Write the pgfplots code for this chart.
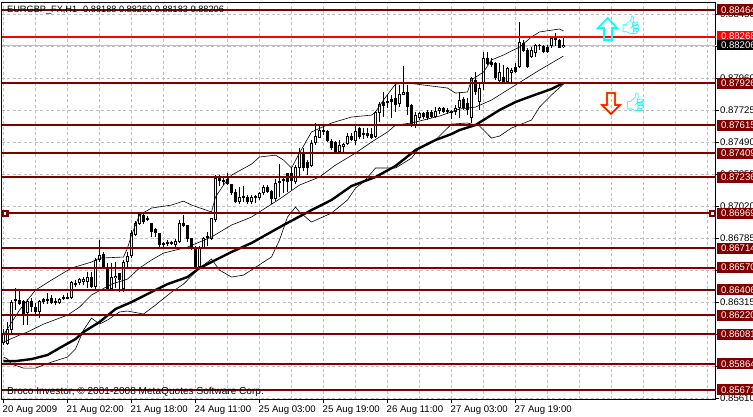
\documentclass[border=0pt]{standalone}
\usepackage{fontspec}
\setmainfont{Liberation Sans}
\newfontfamily\emojifont{Noto Emoji}
\usepackage{pgfplots}
\usepackage{pgfplotstable}
\pgfplotsset{compat=1.18}
\definecolor{lvl}{HTML}{800000}
\definecolor{gridc}{HTML}{C0C0C0}
\definecolor{aqua}{RGB}{0,255,255}
\definecolor{amber}{RGB}{255,160,0}
\newcommand{\chartfont}{\fontsize{9.6}{11}\selectfont}

\pgfplotstableread{
k o h l c
0 0.86016 0.86119 0.86001 0.86089
1 0.86008 0.86170 0.86001 0.86119
2 0.86111 0.86332 0.86074 0.86317
3 0.86339 0.86420 0.86258 0.86324
4 0.86332 0.86412 0.86295 0.86302
5 0.86324 0.86332 0.86148 0.86229
6 0.86236 0.86339 0.86148 0.86324
7 0.86324 0.86346 0.86244 0.86280
8 0.86280 0.86310 0.86229 0.86244
9 0.86244 0.86332 0.86199 0.86324
10 0.86339 0.86346 0.86302 0.86317
11 0.86339 0.86383 0.86302 0.86324
12 0.86346 0.86369 0.86302 0.86310
13 0.86324 0.86346 0.86295 0.86310
14 0.86310 0.86346 0.86302 0.86339
15 0.86354 0.86369 0.86332 0.86339
16 0.86354 0.86383 0.86339 0.86339
17 0.86346 0.86471 0.86339 0.86464
18 0.86457 0.86479 0.86427 0.86442
19 0.86457 0.86493 0.86442 0.86486
20 0.86464 0.86501 0.86442 0.86486
21 0.86464 0.86538 0.86420 0.86501
22 0.86501 0.86538 0.86420 0.86427
23 0.86427 0.86640 0.86412 0.86626
24 0.86626 0.86773 0.86611 0.86662
25 0.86670 0.86685 0.86567 0.86574
26 0.86567 0.86604 0.86405 0.86412
27 0.86412 0.86604 0.86405 0.86501
28 0.86493 0.86611 0.86420 0.86508
29 0.86530 0.86530 0.86390 0.86479
30 0.86412 0.86626 0.86390 0.86611
31 0.86611 0.86685 0.86567 0.86655
32 0.86655 0.86846 0.86640 0.86824
33 0.86809 0.86912 0.86802 0.86898
34 0.86890 0.86971 0.86883 0.86964
35 0.86956 0.86971 0.86890 0.86905
36 0.86934 0.86949 0.86912 0.86920
37 0.86898 0.86898 0.86795 0.86831
38 0.86853 0.86861 0.86795 0.86824
39 0.86824 0.86824 0.86721 0.86736
40 0.86751 0.86758 0.86721 0.86736
41 0.86758 0.86773 0.86729 0.86743
42 0.86758 0.86765 0.86736 0.86743
43 0.86736 0.86780 0.86721 0.86765
44 0.86758 0.86920 0.86751 0.86898
45 0.86898 0.86956 0.86868 0.86875
46 0.86883 0.86883 0.86758 0.86780
47 0.86787 0.86787 0.86699 0.86721
48 0.86721 0.86729 0.86567 0.86574
49 0.86574 0.86729 0.86567 0.86714
50 0.86714 0.86795 0.86707 0.86787
51 0.86802 0.86831 0.86729 0.86787
52 0.86780 0.86934 0.86773 0.86934
53 0.86920 0.87250 0.86905 0.87228
54 0.87228 0.87250 0.87170 0.87206
55 0.87214 0.87228 0.87177 0.87199
56 0.87221 0.87265 0.87177 0.87184
57 0.87184 0.87184 0.87103 0.87118
58 0.87125 0.87148 0.87044 0.87052
59 0.87052 0.87162 0.87037 0.87089
60 0.87096 0.87170 0.87052 0.87081
61 0.87089 0.87103 0.87037 0.87052
62 0.87052 0.87103 0.87037 0.87089
63 0.87096 0.87103 0.87044 0.87081
64 0.87081 0.87125 0.87067 0.87118
65 0.87118 0.87177 0.87103 0.87162
66 0.87162 0.87177 0.87118 0.87125
67 0.87133 0.87140 0.87037 0.87074
68 0.87074 0.87221 0.87059 0.87192
69 0.87192 0.87331 0.87089 0.87206
70 0.87221 0.87236 0.87118 0.87206
71 0.87265 0.87265 0.87125 0.87199
72 0.87265 0.87309 0.87140 0.87206
73 0.87199 0.87324 0.87184 0.87309
74 0.87302 0.87449 0.87228 0.87420
75 0.87420 0.87449 0.87280 0.87302
76 0.87346 0.87360 0.87250 0.87302
77 0.87317 0.87508 0.87309 0.87486
78 0.87486 0.87633 0.87471 0.87537
79 0.87522 0.87625 0.87522 0.87581
80 0.87567 0.87618 0.87544 0.87581
81 0.87574 0.87581 0.87493 0.87500
82 0.87500 0.87515 0.87434 0.87449
83 0.87493 0.87500 0.87412 0.87420
84 0.87420 0.87508 0.87405 0.87471
85 0.87456 0.87486 0.87420 0.87478
86 0.87478 0.87559 0.87471 0.87537
87 0.87537 0.87559 0.87500 0.87508
88 0.87500 0.87610 0.87471 0.87574
89 0.87596 0.87603 0.87515 0.87530
90 0.87559 0.87596 0.87515 0.87544
91 0.87559 0.87596 0.87522 0.87537
92 0.87552 0.87596 0.87515 0.87522
93 0.87530 0.87721 0.87522 0.87714
94 0.87706 0.87787 0.87640 0.87772
95 0.87787 0.87861 0.87677 0.87758
96 0.87794 0.87839 0.87743 0.87780
97 0.87809 0.87839 0.87669 0.87787
98 0.87816 0.87927 0.87714 0.87765
99 0.87772 0.87912 0.87750 0.87846
100 0.87839 0.88052 0.87839 0.87861
101 0.87861 0.87912 0.87691 0.87750
102 0.87765 0.87772 0.87603 0.87625
103 0.87618 0.87714 0.87596 0.87691
104 0.87669 0.87714 0.87655 0.87706
105 0.87706 0.87714 0.87662 0.87677
106 0.87714 0.87728 0.87655 0.87669
107 0.87714 0.87728 0.87669 0.87677
108 0.87677 0.87750 0.87669 0.87721
109 0.87721 0.87750 0.87699 0.87743
110 0.87743 0.87750 0.87706 0.87714
111 0.87728 0.87743 0.87699 0.87714
112 0.87721 0.87728 0.87662 0.87706
113 0.87714 0.87765 0.87691 0.87743
114 0.87743 0.87861 0.87669 0.87802
115 0.87809 0.87824 0.87728 0.87743
116 0.87780 0.87816 0.87691 0.87728
117 0.87669 0.87971 0.87633 0.87963
118 0.87949 0.88008 0.87839 0.87861
119 0.87787 0.87934 0.87728 0.87890
120 0.87927 0.88155 0.87875 0.88110
121 0.88110 0.88155 0.88059 0.88066
122 0.88081 0.88110 0.88044 0.88059
123 0.88074 0.88081 0.87949 0.87963
124 0.87941 0.88074 0.87927 0.88008
125 0.87971 0.88059 0.87927 0.87934
126 0.87934 0.88044 0.87927 0.88037
127 0.88000 0.88037 0.87934 0.88022
128 0.88044 0.88074 0.88000 0.88008
129 0.88044 0.88375 0.88037 0.88228
130 0.88221 0.88243 0.88155 0.88162
131 0.88169 0.88184 0.88037 0.88044
132 0.88118 0.88191 0.88110 0.88169
133 0.88147 0.88213 0.88118 0.88206
134 0.88199 0.88213 0.88169 0.88206
135 0.88199 0.88206 0.88147 0.88155
136 0.88191 0.88206 0.88147 0.88155
137 0.88199 0.88265 0.88184 0.88257
138 0.88257 0.88294 0.88199 0.88243
139 0.88243 0.88250 0.88184 0.88184
140 0.88188 0.88259 0.88183 0.88206
}\candles

\pgfplotstableread{
k p
0 0.85883
3 0.85883
7 0.85898
11 0.85928
14 0.85979
18 0.86045
20 0.86097
24 0.86170
28 0.86266
32 0.86317
37 0.86391
41 0.86449
46 0.86501
49 0.86567
53 0.86626
57 0.86685
62 0.86751
70 0.86883
77 0.86993
82 0.87067
87 0.87170
93 0.87236
98 0.87317
103 0.87434
108 0.87508
112 0.87552
114 0.87581
118 0.87618
120 0.87655
124 0.87728
128 0.87787
132 0.87831
137 0.87883
140 0.87927
}\mavg

\pgfplotstableread{
k p
0 0.86075
4 0.86258
8 0.86405
12 0.86479
17 0.86567
22 0.86611
24 0.86640
30 0.86648
31 0.86714
32 0.86809
34 0.86956
37 0.87008
42 0.87030
45 0.87059
47 0.87030
52 0.86979
53 0.87089
55 0.87177
57 0.87250
62 0.87331
64 0.87383
68 0.87397
70 0.87361
72 0.87302
74 0.87412
77 0.87567
82 0.87633
87 0.87677
92 0.87691
93 0.87714
95 0.87802
98 0.87919
101 0.87927
107 0.87905
111 0.87890
113 0.87853
116 0.87861
117 0.87949
120 0.88008
122 0.88096
125 0.88133
129 0.88191
132 0.88265
134 0.88302
139 0.88324
140 0.88309
}\bandup

\pgfplotstableread{
k p
0 0.86023
4 0.86074
6 0.86097
10 0.86155
16 0.86221
19 0.86280
22 0.86369
27 0.86449
31 0.86486
34 0.86567
37 0.86626
40 0.86677
46 0.86721
52 0.86795
57 0.86883
62 0.86942
69 0.87074
74 0.87177
79 0.87236
83 0.87324
88 0.87412
92 0.87493
96 0.87567
98 0.87618
102 0.87633
109 0.87684
114 0.87736
116 0.87743
118 0.87750
122 0.87802
130 0.87949
134 0.88022
140 0.88125
}\bandmid

\pgfplotstableread{
k p
0 0.85913
1 0.85898
2 0.85861
5 0.85832
8 0.85832
12 0.85876
16 0.85913
18 0.85972
20 0.86111
22 0.86199
24 0.86155
26 0.86185
29 0.86244
31 0.86251
35 0.86229
38 0.86295
42 0.86390
45 0.86449
48 0.86538
50 0.86589
52 0.86633
54 0.86552
57 0.86501
60 0.86515
65 0.86611
67 0.86648
69 0.86773
71 0.86942
73 0.87015
74 0.86979
77 0.86905
82 0.86971
86 0.87067
88 0.87155
90 0.87199
93 0.87302
98 0.87302
102 0.87375
104 0.87449
108 0.87508
112 0.87625
116 0.87633
119 0.87611
122 0.87522
124 0.87537
127 0.87596
132 0.87655
134 0.87750
137 0.87839
140 0.87919
}\bandlow

\begin{document}
\begin{tikzpicture}[x=1pt,y=1pt]
\path[use as bounding box] (0,0) rectangle (753,417);
\begin{axis}[
  at={(2pt,17.5pt)},anchor=south west,scale only axis,
  width=713.5pt,height=396.5pt,
  xmin=-0.375,xmax=178,ymin=0.85601,ymax=0.88515,
  clip=false,axis line style={line width=1pt,black},
  font=\chartfont,
  xtick={0,16,32,48,64,80,96,112,128},
  xticklabels={20 Aug 2009,21 Aug 02:00,21 Aug 18:00,24 Aug 11:00,25 Aug 03:00,25 Aug 19:00,26 Aug 11:00,27 Aug 03:00,27 Aug 19:00},
  minor xtick={8,24,40,56,72,88,104,120,136,144,152,160,168,176},
  ytick={0.85610,0.85845,0.86080,0.86315,0.86550,0.86785,0.87020,0.87255,0.87490,0.87725,0.87960,0.88195,0.88430},
  scaled y ticks=false,
  yticklabel style={/pgf/number format/fixed,/pgf/number format/fixed zerofill,/pgf/number format/precision=5,/pgf/number format/assume math mode=true,anchor=west,inner sep=0pt,xshift=1pt},
  ytick pos=right,xtick pos=bottom,tick align=outside,
  major tick length=3.5pt,minor tick length=0pt,
  tick style={black,line width=1pt},
  xticklabel style={anchor=north west,inner sep=0pt,xshift=-1pt,yshift=-3pt},
  xmajorgrids,xminorgrids,ymajorgrids,
  major grid style={gridc,dash pattern=on 3pt off 2.5pt,line width=0.8pt},
  minor grid style={gridc,dash pattern=on 3pt off 2.5pt,line width=0.8pt},
]
% current price line
\addplot[gridc,line width=1pt,forget plot] coordinates {(-0.375,0.88206) (178,0.88206)};

% wicks
\addplot[draw=none,mark=none,forget plot,
  error bars/.cd,y dir=plus,y explicit,error mark=none,
  error bar style={black,line width=1pt}]
  table[x=k,y=l,y error plus expr=\thisrow{h}-\thisrow{l}] {\candles};
% bodies, black first and a white core for the rising bars
\addplot[draw=none,mark=none,forget plot,
  error bars/.cd,y dir=plus,y explicit,error mark=none,
  error bar style={black,line width=3.2pt}]
  table[x=k,y expr={min(\thisrow{o},\thisrow{c})},y error plus expr={abs(\thisrow{c}-\thisrow{o})}] {\candles};
\addplot[draw=none,mark=none,forget plot,
  error bars/.cd,y dir=plus,y explicit,error mark=none,
  error bar style={white,line width=1.2pt}]
  table[x=k,y expr={\thisrow{o}+0.00007},y error plus expr={max(\thisrow{c}-\thisrow{o}-0.00014,0)}] {\candles};

\addplot[black,line width=0.6pt,forget plot] table[x=k,y=p] {\bandup};
\addplot[black,line width=0.6pt,forget plot] table[x=k,y=p] {\bandmid};
\addplot[black,line width=0.6pt,forget plot] table[x=k,y=p] {\bandlow};
\addplot[black,line width=2.4pt,forget plot] table[x=k,y=p] {\mavg};

% horizontal levels with their price tags
\pgfplotsinvokeforeach{0.88464,0.87926,0.87615,0.87409,0.87236,0.86969,0.86714,0.86570,0.86406,0.86220,0.86081,0.85864,0.85671}{
  \addplot[lvl,line width=2pt,forget plot] coordinates {(-0.375,#1) (178,#1)};
  \node[fill=lvl,text=white,anchor=west,inner sep=0pt,xshift=0.8pt,
    minimum height=11pt,text width=37pt,align=left] at (axis cs:178,#1) {\hspace*{4.5pt}#1};
}
\addplot[red,line width=2pt,forget plot] coordinates {(-0.375,0.88268) (178,0.88268)};
\node[fill=red,text=white,anchor=west,inner sep=0pt,xshift=0.8pt,
  minimum height=11pt,text width=37pt,align=left] at (axis cs:178,0.88268) {\hspace*{4.5pt}0.88268};
\node[fill=black,text=white,anchor=west,inner sep=0pt,xshift=0.8pt,
  minimum height=10pt,text width=37pt,align=left] at (axis cs:178,0.88206) {\hspace*{4.5pt}0.88206};

% selected-line handles
\addplot[only marks,mark=square*,mark size=2.5pt,
  mark options={draw=lvl,fill=white,line width=2.2pt},forget plot]
  coordinates {(0.4,0.86969) (177.2,0.86969)};
\end{axis}

\node[anchor=west,inner sep=0pt,font=\fontsize{9.2}{11}\selectfont] at (7,407) {EURGBP\_FX,H1\hspace{6pt}0.88188 0.88259 0.88183 0.88206};
\node[anchor=west,inner sep=0pt,font=\fontsize{10.1}{11}\selectfont] at (7,25) {Broco Investor, © 2001-2008 MetaQuotes Software Corp.};

\draw[aqua,line width=1.6pt] (607.7,399) -- (617,389) -- (612,389) -- (612,377) -- (604,377) -- (604,389) -- (598,389) -- cycle;
\draw[amber,line width=2pt] (611,303) -- (620,312) -- (615,312) -- (615,324) -- (607,324) -- (607,312) -- (602,312) -- cycle;
\draw[red,line width=1.2pt] (611,303) -- (620,312) -- (615,312) -- (615,324) -- (607,324) -- (607,312) -- (602,312) -- cycle;
\node[text=aqua,inner sep=0pt,font=\emojifont\fontsize{18}{18}\selectfont] at (631,392) {👍};
\node[text=aqua,inner sep=0pt,font=\emojifont\fontsize{18}{18}\selectfont] at (635.5,315) {👍};
\end{tikzpicture}
\end{document}
